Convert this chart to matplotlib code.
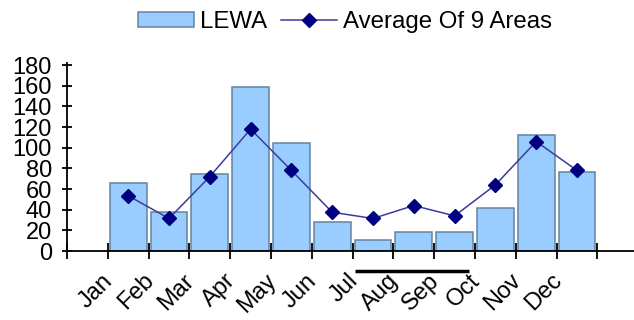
import matplotlib
matplotlib.use("Agg")
import matplotlib.pyplot as plt
import matplotlib.transforms as mtransforms
import numpy as np

months = ['Jan', 'Feb', 'Mar', 'Apr', 'May', 'Jun',
          'Jul', 'Aug', 'Sep', 'Oct', 'Nov', 'Dec']
lewa = [66, 38, 75, 159, 105, 28, 11, 18, 18, 42, 112, 76]
avg_9_areas = [53.5, 31.5, 72, 118, 78, 37.5, 31.5, 44, 34, 64, 106, 78]

plt.rcParams['font.family'] = ['Liberation Sans', 'DejaVu Sans']

fig = plt.figure(figsize=(6.34, 3.2), dpi=100)
ax = fig.add_axes([67 / 634, 69 / 320, 567 / 634, 188 / 320])

# bars sit between the ticks, labels sit on the ticks
x_ticks = np.arange(1, len(months) + 1)
x_bars = x_ticks + 0.5

bars = ax.bar(x_bars, lewa, width=0.9, color='#99CCFF', edgecolor='#6484A0',
              linewidth=1.1, label='LEWA', zorder=2)
line, = ax.plot(x_bars, avg_9_areas, color='#3C3C9C', linewidth=1.1,
                marker='D', markersize=7.5, markerfacecolor='#000080',
                markeredgecolor='#000080', label='Average Of 9 Areas',
                zorder=3)

ax.set_xlim(0, 567 / 40.8)
ax.set_ylim(0, 182)
ax.set_yticks(range(0, 181, 20))
ax.set_xticks(np.arange(0, 14))
ax.set_xticklabels([''] + months + [''], rotation=45, ha='right', va='top',
                   rotation_mode='anchor')

for s in ['top', 'right']:
    ax.spines[s].set_visible(False)
for s in ['left', 'bottom']:
    ax.spines[s].set_linewidth(1.3)

ax.tick_params(axis='y', direction='inout', length=7.5, width=1.3,
               pad=7, labelsize=17)
ax.tick_params(axis='x', direction='inout', length=11, width=1.3,
               pad=8, labelsize=17)

shift = mtransforms.ScaledTranslation(-6 / 100, 0, fig.dpi_scale_trans)
for lbl in ax.get_xticklabels():
    lbl.set_transform(lbl.get_transform() + shift)

# black underline below Jul-Sep
ax.plot([7.07, 9.85], [-19, -19], color='black', linewidth=2.5,
        clip_on=False, solid_capstyle='butt')

ax.legend([bars, line], ['LEWA', 'Average Of 9 Areas'],
          loc='center', bbox_to_anchor=(345 / 634, 1 - 22 / 320),
          bbox_transform=fig.transFigure, ncol=2, frameon=False,
          fontsize=17.3, handlelength=2.3, handleheight=0.6,
          handletextpad=0.25, columnspacing=0.6, borderpad=0)

fig.savefig('out.png', dpi=100)
